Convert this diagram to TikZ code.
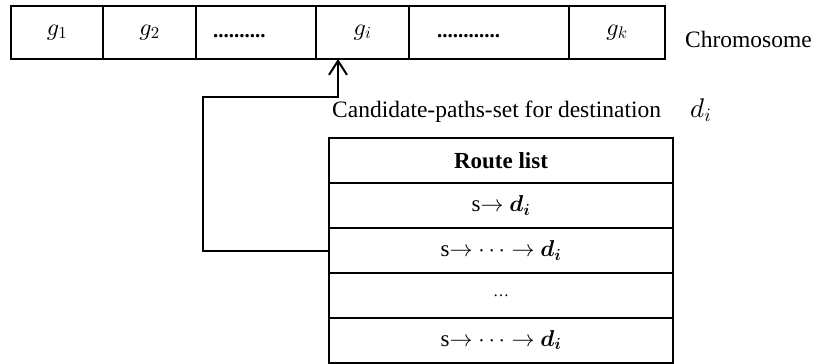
\RequirePackage{fix-cm}
\documentclass[tikz,border=0pt]{standalone}
\usepackage[no-math]{fontspec}
\usepackage{bm}
\setmainfont{Liberation Serif}
\DeclareFontShape{OML}{cmm}{m}{it}{<->cmmi10}{}
\DeclareFontShape{OML}{cmm}{b}{it}{<->cmmib10}{}
\DeclareFontShape{OMS}{cmsy}{m}{n}{<->cmsy10}{}
\DeclareFontShape{OT1}{cmr}{m}{n}{<->cmr10}{}
\usetikzlibrary{arrows.meta}
\tikzset{
  cell/.style={draw, line width=2pt, minimum height=53pt, inner sep=0pt, font=\fontsize{24}{28}\selectfont},
  row/.style={draw, line width=2pt, minimum width=344pt, minimum height=45pt, inner sep=0pt, font=\fontsize{23}{27}\selectfont},
  lbl/.style={inner sep=0pt, font=\fontsize{23.5}{28}\selectfont},
  dotsl/.style={inner sep=0pt, font=\fontsize{21}{25}\selectfont\bfseries},
  conn/.style={line width=2pt, -{Straight Barb[length=14pt,width=18pt,line width=2pt]}}
}
\begin{document}
\begin{tikzpicture}[x=1pt,y=-1pt]
\useasboundingbox (0,0) rectangle (823,364);
% chromosome cells
\node[cell, minimum width=92pt] (c1) at (57,32.5) {$g_1$};
\node[cell, minimum width=93pt] (c2) at (149.5,32.5) {$g_2$};
\node[cell, minimum width=120pt] (c3) at (256,32.5) {};
\node[cell, minimum width=93pt] (c4) at (362.5,32.5) {$g_i$};
\node[cell, minimum width=160pt] (c5) at (489,32.5) {};
\node[cell, minimum width=96pt] (c6) at (617,32.5) {$g_k$};
\node[dotsl, anchor=base west] (d3) at (213,37) {..........};
\node[dotsl, anchor=base west] (d5) at (437,37) {............};
\node[lbl, anchor=base west] (chrom) at (685,47) {Chromosome};
% candidate label
\node[lbl, anchor=base west] (cand) at (332,117) {Candidate-paths-set for destination};
\node[lbl, anchor=base west, font=\fontsize{27}{30}\selectfont] (di) at (690,117) {$d_i$};
% route list table
\node[row] (r1) at (501,160.5) {\textbf{Route list}};
\node[row] (r2) at (501,205.5) {s$\rightarrow$ $\bm{d_i}$};
\node[row] (r3) at (501,250.5) {s$\rightarrow$ $\cdots\rightarrow$ $\bm{d_i}$};
\node[row, font=\fontsize{16}{20}\selectfont] (r4) at (501,295.5) {\dots};
\node[row] (r5) at (501,340) {s$\rightarrow$ $\cdots\rightarrow$ $\bm{d_i}$};
% connector
\coordinate (bend) at (203,97);
\coordinate (tip) at (338,59);
\draw[conn] (r3.west) -| (bend) -| (tip);
\end{tikzpicture}
\end{document}
